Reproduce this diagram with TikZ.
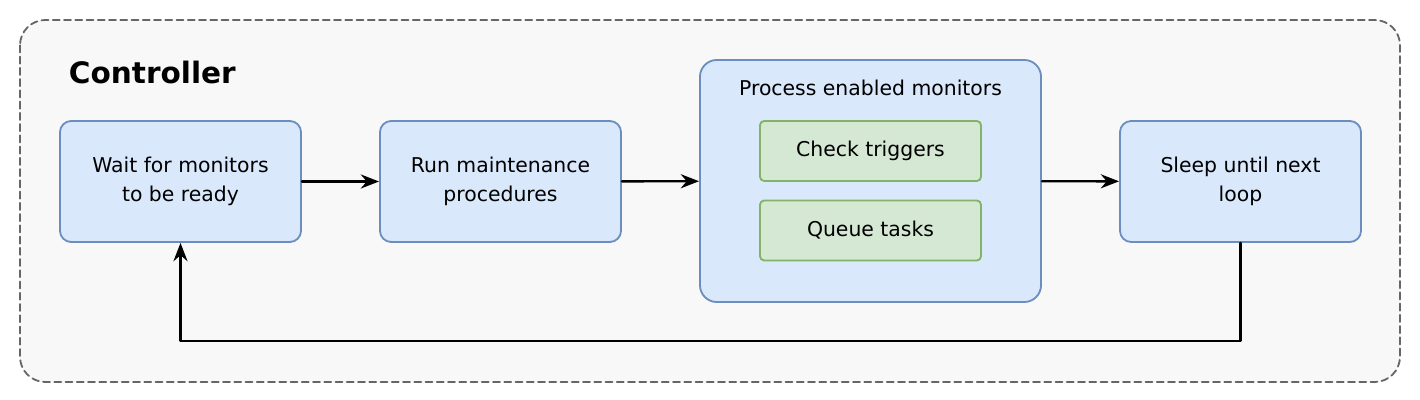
\documentclass[tikz,border=0pt]{standalone}
\usepackage{fontspec}
\setmainfont{DejaVu Sans}
\usetikzlibrary{arrows.meta}
\definecolor{blueFill}{HTML}{DAE8FC}
\definecolor{blueLine}{HTML}{6C8EBF}
\definecolor{greenFill}{HTML}{D5E8D4}
\definecolor{greenLine}{HTML}{82B366}
\definecolor{frameLine}{HTML}{666666}
\definecolor{frameFill}{HTML}{F8F8F8}
\begin{document}
\begin{tikzpicture}[x=0.025cm, y=-0.025cm, line join=round, line cap=round,
	stepbox/.style={draw=blueLine, fill=blueFill, line width=1.3pt, rounded corners=8pt,
		minimum width=6.025cm, minimum height=3.025cm, align=center, inner sep=0pt,
		font=\fontsize{14.5pt}{21pt}\selectfont},
	taskbox/.style={draw=greenLine, fill=greenFill, line width=1.3pt, rounded corners=3pt,
		minimum width=5.525cm, minimum height=1.5cm, inner sep=0pt,
		font=\fontsize{14.5pt}{21pt}\selectfont},
	arr/.style={-{Stealth[length=13pt, width=10pt]}, line width=1.7pt}]
	\useasboundingbox (0,0) rectangle (1420,400);
	% frame of the controller
	\draw[frameLine, fill=frameFill, line width=1.3pt, dash pattern=on 5pt off 3pt, rounded corners=18pt] (20,20) rectangle (1400,382);
	\node[anchor=base west, font=\bfseries\fontsize{21pt}{24pt}\selectfont] (title) at (64,84) {Controller};
	\node[stepbox] (wait) at (180.5,181.5) {Wait for monitors\\to be ready};
	\node[stepbox] (maint) at (500.5,181.5) {Run maintenance\\procedures};
	\node[stepbox, minimum width=8.525cm, minimum height=6.05cm, rounded corners=12pt] (proc) at (870.5,181) {};
	\node[font=\fontsize{14.5pt}{21pt}\selectfont] (proctitle) at (870.5,88) {Process enabled monitors};
	\node[taskbox] (check) at (870.5,151) {Check triggers};
	\node[taskbox] (queue) at (870.5,230.5) {Queue tasks};
	\node[stepbox] (sleep) at (1240.5,181.5) {Sleep until next\\loop};
	\draw[arr] (wait) -- (maint);
	\draw[arr] (maint) -- (proc);
	\draw[arr] (proc) -- (sleep);
	\draw[arr] (sleep.south) -- (sleep.south |- 0,341) -| (wait.south);
\end{tikzpicture}
\end{document}
